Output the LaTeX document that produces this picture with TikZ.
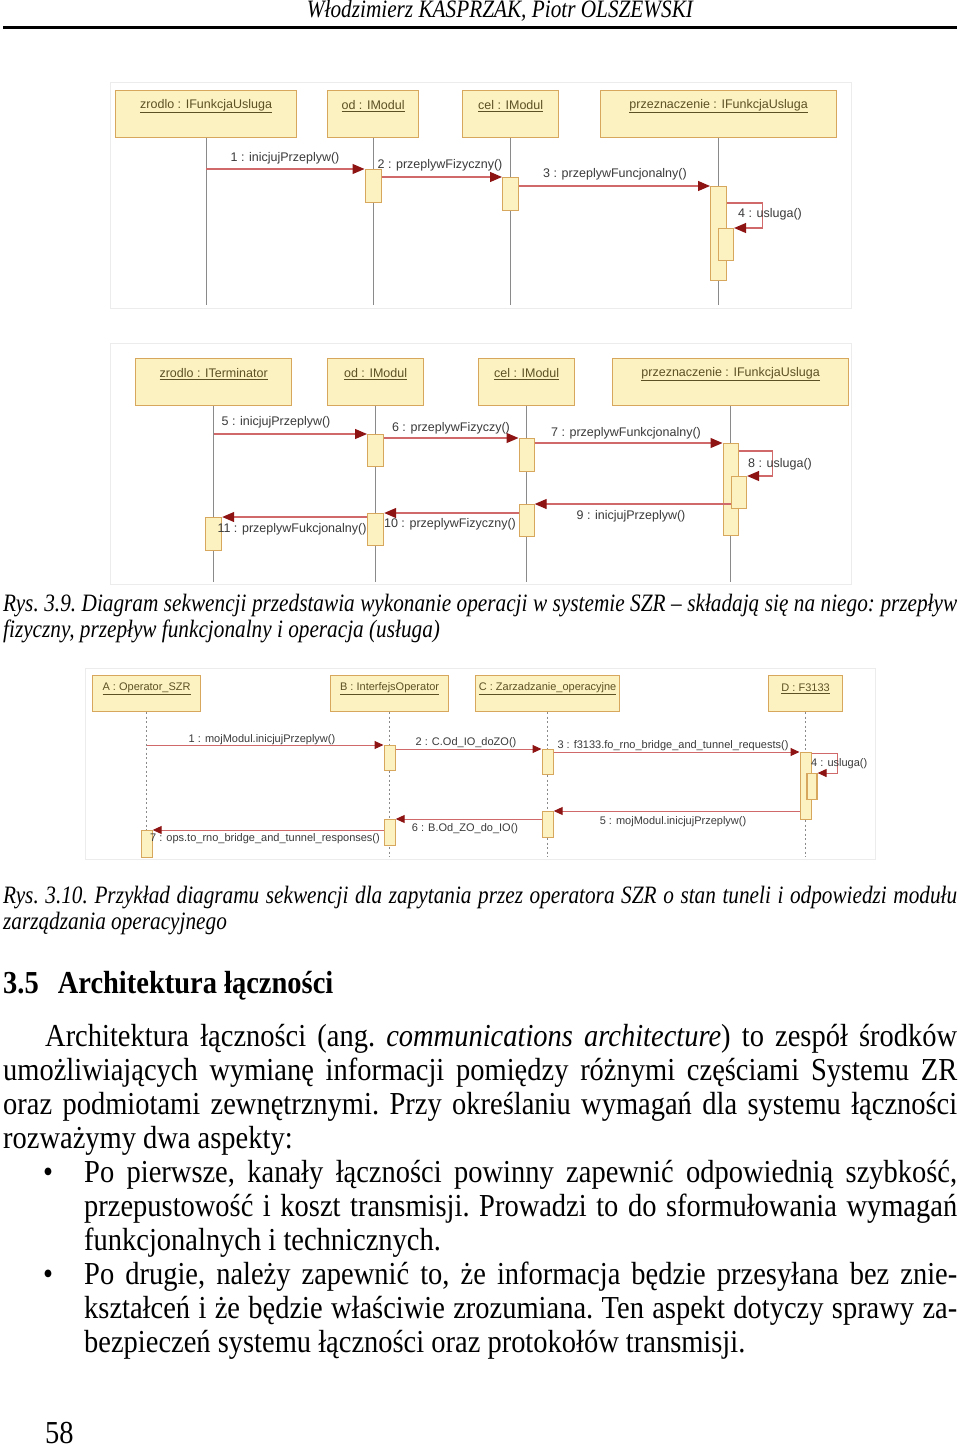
\documentclass[tikz,border=0pt]{standalone}
\usepackage{fontspec}
\setmainfont{Liberation Serif}
\setsansfont{Liberation Sans}
\newfontfamily\pagefont{Liberation Serif}[FakeStretch=0.89]
\newfontfamily\capfont{Liberation Serif}[FakeStretch=0.85]
\usepackage{xcolor}
\usetikzlibrary{arrows.meta}

\definecolor{boxfill}{HTML}{FCF1C0}
\definecolor{boxline}{HTML}{D6A75C}
\definecolor{msgline}{HTML}{D06A6A}
\definecolor{tipred}{HTML}{8E1414}
\definecolor{lbltext}{HTML}{3A3A3A}
\definecolor{objtext}{HTML}{5B5124}
\definecolor{lifegray}{HTML}{8A8A8A}

\newcommand{\bodytext}{\pagefont\frenchspacing\fontsize{32}{34}\selectfont}
\newcommand{\captext}{\capfont\frenchspacing\itshape\fontsize{25}{30}\selectfont}
\newcommand{\fullline}[2]{\makebox[#1pt][s]{#2}}

\tikzset{
  objbox/.style={draw=boxline, fill=boxfill, line width=1.2pt, anchor=north west, inner sep=0pt},
  objlbl/.style={font=\sffamily\fontsize{12.5}{14}\selectfont, text=objtext, inner sep=0pt},
  objlbls/.style={objlbl, font=\sffamily\fontsize{11}{13}\selectfont},
  life/.style={draw=lifegray, line width=1.2pt},
  lifedot/.style={draw=lifegray, line width=1pt, dash pattern=on 2pt off 2.5pt},
  act/.style={draw=boxline, fill=boxfill, line width=1.2pt, anchor=north, minimum width=16pt, inner sep=0pt},
  acts/.style={act, minimum width=11pt},
  msg/.style={draw=msgline, line width=1.2pt, -{Triangle[length=12pt, width=10pt, color=tipred, fill=tipred]}},
  msgs/.style={draw=msgline, line width=1pt, -{Triangle[length=9pt, width=8pt, color=tipred, fill=tipred]}},
  msglbl/.style={font=\sffamily\fontsize{12.5}{14}\selectfont, text=lbltext, inner sep=0pt},
  msglbls/.style={msglbl, font=\sffamily\fontsize{11}{13}\selectfont},
  frame/.style={draw=gray!15, line width=1pt},
  bodyline/.style={anchor=base west, inner sep=0pt, font=\bodytext},
  capline/.style={anchor=base west, inner sep=0pt, font=\captext},
}

\begin{document}
\begin{tikzpicture}[x=1pt, y=-1pt]
\fill[white] (0,0) rectangle (960,1449);
\useasboundingbox (0,0) rectangle (960,1449);

\node[capline, anchor=base] (hdr) at (500,17) {Włodzimierz KASPRZAK, Piotr OLSZEWSKI};
\draw[line width=3pt] (3,27) -- (957,27);

% Rys. 3.9, upper part
\draw[frame] (110,82) rectangle (851,308);
\node[objbox, minimum width=181, minimum height=47] (src1) at (115,90) {};
\node[objbox, minimum width=91, minimum height=47] (od1) at (327,90) {};
\node[objbox, minimum width=96, minimum height=47] (cel1) at (462,90) {};
\node[objbox, minimum width=236, minimum height=47] (pz1) at (600,90) {};
\node[objlbl] (src1l) at ([yshift=-16pt]src1.north) {\underline{zrodlo : IFunkcjaUsluga}};
\node[objlbl] (od1l) at ([yshift=-16pt]od1.north) {\underline{od : IModul}};
\node[objlbl] (cel1l) at ([yshift=-16pt]cel1.north) {\underline{cel : IModul}};
\node[objlbl] (pz1l) at ([yshift=-16pt]pz1.north) {\underline{przeznaczenie : IFunkcjaUsluga}};
\coordinate (end1) at (0,305);
\foreach \o in {src1,od1,cel1,pz1} \draw[life] (\o.south) -- (\o.south |- end1);
\node[act, minimum height=33] (od1a) at (od1.south |- 0,169) {};
\node[act, minimum height=33] (cel1a) at (cel1.south |- 0,177) {};
\node[act, minimum height=94] (pz1a) at (pz1.south |- 0,186) {};
\node[act, minimum width=15, minimum height=32] (pz1b) at (726,228) {};
\draw[msg] (src1.south |- od1a.north) -- (od1a.north west);
\draw[msg] (od1a.east |- cel1a.north) -- (cel1a.north west);
\draw[msg] (cel1a.east |- pz1a.north) -- (pz1a.north west);
\draw[msg] ([yshift=-17pt]pz1a.north east) -- ++(35,0) |- (pz1b.north east);
\node[msglbl] (m1) at (285,158) {1 : inicjujPrzeplyw()};
\node[msglbl] (m2) at (440,165) {2 : przeplywFizyczny()};
\node[msglbl] (m3) at (615,174) {3 : przeplywFuncjonalny()};
\node[msglbl, anchor=west] (m4) at (738,214) {4 : usluga()};

% Rys. 3.9, lower part
\draw[frame] (110,343) rectangle (851,584);
\node[objbox, minimum width=156, minimum height=47] (src2) at (135,358) {};
\node[objbox, minimum width=96, minimum height=47] (od2) at (327,358) {};
\node[objbox, minimum width=96, minimum height=47] (cel2) at (478,358) {};
\node[objbox, minimum width=236, minimum height=47] (pz2) at (612,358) {};
\node[objlbl] (src2l) at ([yshift=-16pt]src2.north) {\underline{zrodlo : ITerminator}};
\node[objlbl] (od2l) at ([yshift=-16pt]od2.north) {\underline{od : IModul}};
\node[objlbl] (cel2l) at ([yshift=-16pt]cel2.north) {\underline{cel : IModul}};
\node[objlbl] (pz2l) at ([yshift=-16pt]pz2.north) {\underline{przeznaczenie : IFunkcjaUsluga}};
\coordinate (end2) at (0,582);
\foreach \o in {src2,od2,cel2,pz2} \draw[life] (\o.south) -- (\o.south |- end2);
\node[act, minimum height=32] (od2a) at (od2.south |- 0,434) {};
\node[act, minimum width=15, minimum height=33] (cel2a) at (cel2.south |- 0,438) {};
\node[act, minimum width=15, minimum height=92] (pz2a) at (pz2.south |- 0,443) {};
\node[act, minimum width=15, minimum height=32] (pz2b) at (739,476) {};
\node[act, minimum width=15, minimum height=32] (cel2b) at (cel2.south |- 0,504) {};
\node[act, minimum height=32] (od2b) at (od2.south |- 0,513) {};
\node[act, minimum height=33] (src2a) at (src2.south |- 0,517) {};
\draw[msg] (src2.south |- od2a.north) -- (od2a.north west);
\draw[msg] (od2a.east |- cel2a.north) -- (cel2a.north west);
\draw[msg] (cel2a.east |- pz2a.north) -- (pz2a.north west);
\draw[msg] ([yshift=-8pt]pz2a.north east) -- ++(34,0) |- (pz2b.north east);
\draw[msg] (pz2b.west |- cel2b.north) -- (cel2b.north east);
\draw[msg] (cel2b.west |- od2b.north) -- (od2b.north east);
\draw[msg] (od2b.west |- src2a.north) -- (src2a.north east);
\node[msglbl] (m5) at (276,422) {5 : inicjujPrzeplyw()};
\node[msglbl] (m6) at (451,428) {6 : przeplywFizyczy()};
\node[msglbl] (m7) at (626,433) {7 : przeplywFunkcjonalny()};
\node[msglbl, anchor=west] (m8) at (748,464) {8 : usluga()};
\node[msglbl] (m9) at (631,516) {9 : inicjujPrzeplyw()};
\node[msglbl] (m10) at (450,524) {10 : przeplywFizyczny()};
\node[msglbl] (m11) at (292,529) {11 : przeplywFukcjonalny()};

\node[capline] (c39a) at (3,611) {\fullline{954}{Rys. 3.9. Diagram sekwencji przedstawia wykonanie operacji w systemie SZR – składają się na niego: przepływ}};
\node[capline] (c39b) at (3,637) {fizyczny, przepływ funkcjonalny i operacja (usługa)};

% Rys. 3.10
\draw[frame] (85,668) rectangle (875,859);
\node[objbox, minimum width=108, minimum height=36] (opA) at (92,675) {};
\node[objbox, minimum width=118, minimum height=36] (opB) at (330,675) {};
\node[objbox, minimum width=144, minimum height=36] (opC) at (475,675) {};
\node[objbox, minimum width=74, minimum height=36] (opD) at (768,675) {};
\node[objlbls] (opAl) at ([yshift=-14pt]opA.north) {\underline{A : Operator\_SZR}};
\node[objlbls] (opBl) at ([yshift=-14pt]opB.north) {\underline{B : InterfejsOperator}};
\node[objlbls] (opCl) at ([yshift=-14pt]opC.north) {\underline{C : Zarzadzanie\_operacyjne}};
\node[objlbls] (opDl) at ([yshift=-14pt]opD.north) {\underline{D : F3133}};
\coordinate (end3) at (0,857);
\foreach \o in {opA,opB,opC,opD} \draw[lifedot] (\o.south) -- (\o.south |- end3);
\node[acts, minimum height=25] (b1) at (opB.south |- 0,745) {};
\node[acts, minimum height=25] (c1) at (opC.south |- 0,749) {};
\node[acts, minimum height=67] (d1) at (opD.south |- 0,752) {};
\node[acts, minimum width=10, minimum height=26] (d2) at (812,773) {};
\node[acts, minimum height=26] (c2) at (opC.south |- 0,811) {};
\node[acts, minimum height=26] (b2) at (opB.south |- 0,819) {};
\node[acts, minimum height=27] (a1) at (opA.south |- 0,830) {};
\draw[msgs] (opA.south |- b1.north) -- (b1.north west);
\draw[msgs] (b1.east |- c1.north) -- (c1.north west);
\draw[msgs] (c1.east |- d1.north) -- (d1.north west);
\draw[msgs] ([yshift=-1pt]d1.north east) -- ++(26,0) |- (d2.north east);
\draw[msgs] (d1.west |- c2.north) -- (c2.north east);
\draw[msgs] (c2.west |- b2.north) -- (b2.north east);
\draw[msgs] (b2.west |- a1.north) -- (a1.north east);
\node[msglbls] (n1) at (262,740) {1 : mojModul.inicjujPrzeplyw()};
\node[msglbls] (n2) at (466,743) {2 : C.Od\_IO\_doZO()};
\node[msglbls] (n3) at (673,746) {3 : f3133.fo\_rno\_bridge\_and\_tunnel\_requests()};
\node[msglbls, anchor=west] (n4) at (811,764) {4 : usluga()};
\node[msglbls] (n5) at (673,822) {5 : mojModul.inicjujPrzeplyw()};
\node[msglbls] (n6) at (465,829) {6 : B.Od\_ZO\_do\_IO()};
\node[msglbls] (n7) at (265,839) {7 : ops.to\_rno\_bridge\_and\_tunnel\_responses()};

\node[capline] (c310a) at (3,903) {\fullline{954}{Rys. 3.10. Przykład diagramu sekwencji dla zapytania przez operatora SZR o stan tuneli i odpowiedzi modułu}};
\node[capline] (c310b) at (3,929) {zarządzania operacyjnego};

% section 3.5
\node[bodyline, font=\bodytext\bfseries] (sec) at (3,993) {3.5\hspace{19pt}Architektura łączności};
\node[bodyline] (p1) at (45,1046) {\fullline{912}{Architektura łączności (ang. \textit{communications architecture}) to zespół środków}};
\node[bodyline] (p2) at (3,1080) {\fullline{954}{umożliwiających wymianę informacji pomiędzy różnymi częściami Systemu ZR}};
\node[bodyline] (p3) at (3,1114) {\fullline{954}{oraz podmiotami zewnętrznymi. Przy określaniu wymagań dla systemu łączności}};
\node[bodyline] (p4) at (3,1148) {rozważymy dwa aspekty:};
\node[bodyline] (dot1) at (43,1182) {•};
\node[bodyline] (p5) at (84,1182) {\fullline{873}{Po pierwsze, kanały łączności powinny zapewnić odpowiednią szybkość,}};
\node[bodyline] (p6) at (84,1216) {\fullline{873}{przepustowość i koszt transmisji. Prowadzi to do sformułowania wymagań}};
\node[bodyline] (p7) at (84,1250) {funkcjonalnych i technicznych.};
\node[bodyline] (dot2) at (43,1284) {•};
\node[bodyline] (p8) at (84,1284) {\fullline{873}{Po drugie, należy zapewnić to, że informacja będzie przesyłana bez znie-}};
\node[bodyline] (p9) at (84,1318) {\fullline{873}{kształceń i że będzie właściwie zrozumiana. Ten aspekt dotyczy sprawy za-}};
\node[bodyline] (p10) at (84,1352) {bezpieczeń systemu łączności oraz protokołów transmisji.};
\node[bodyline] (pgno) at (45,1443) {58};
\end{tikzpicture}
\end{document}
